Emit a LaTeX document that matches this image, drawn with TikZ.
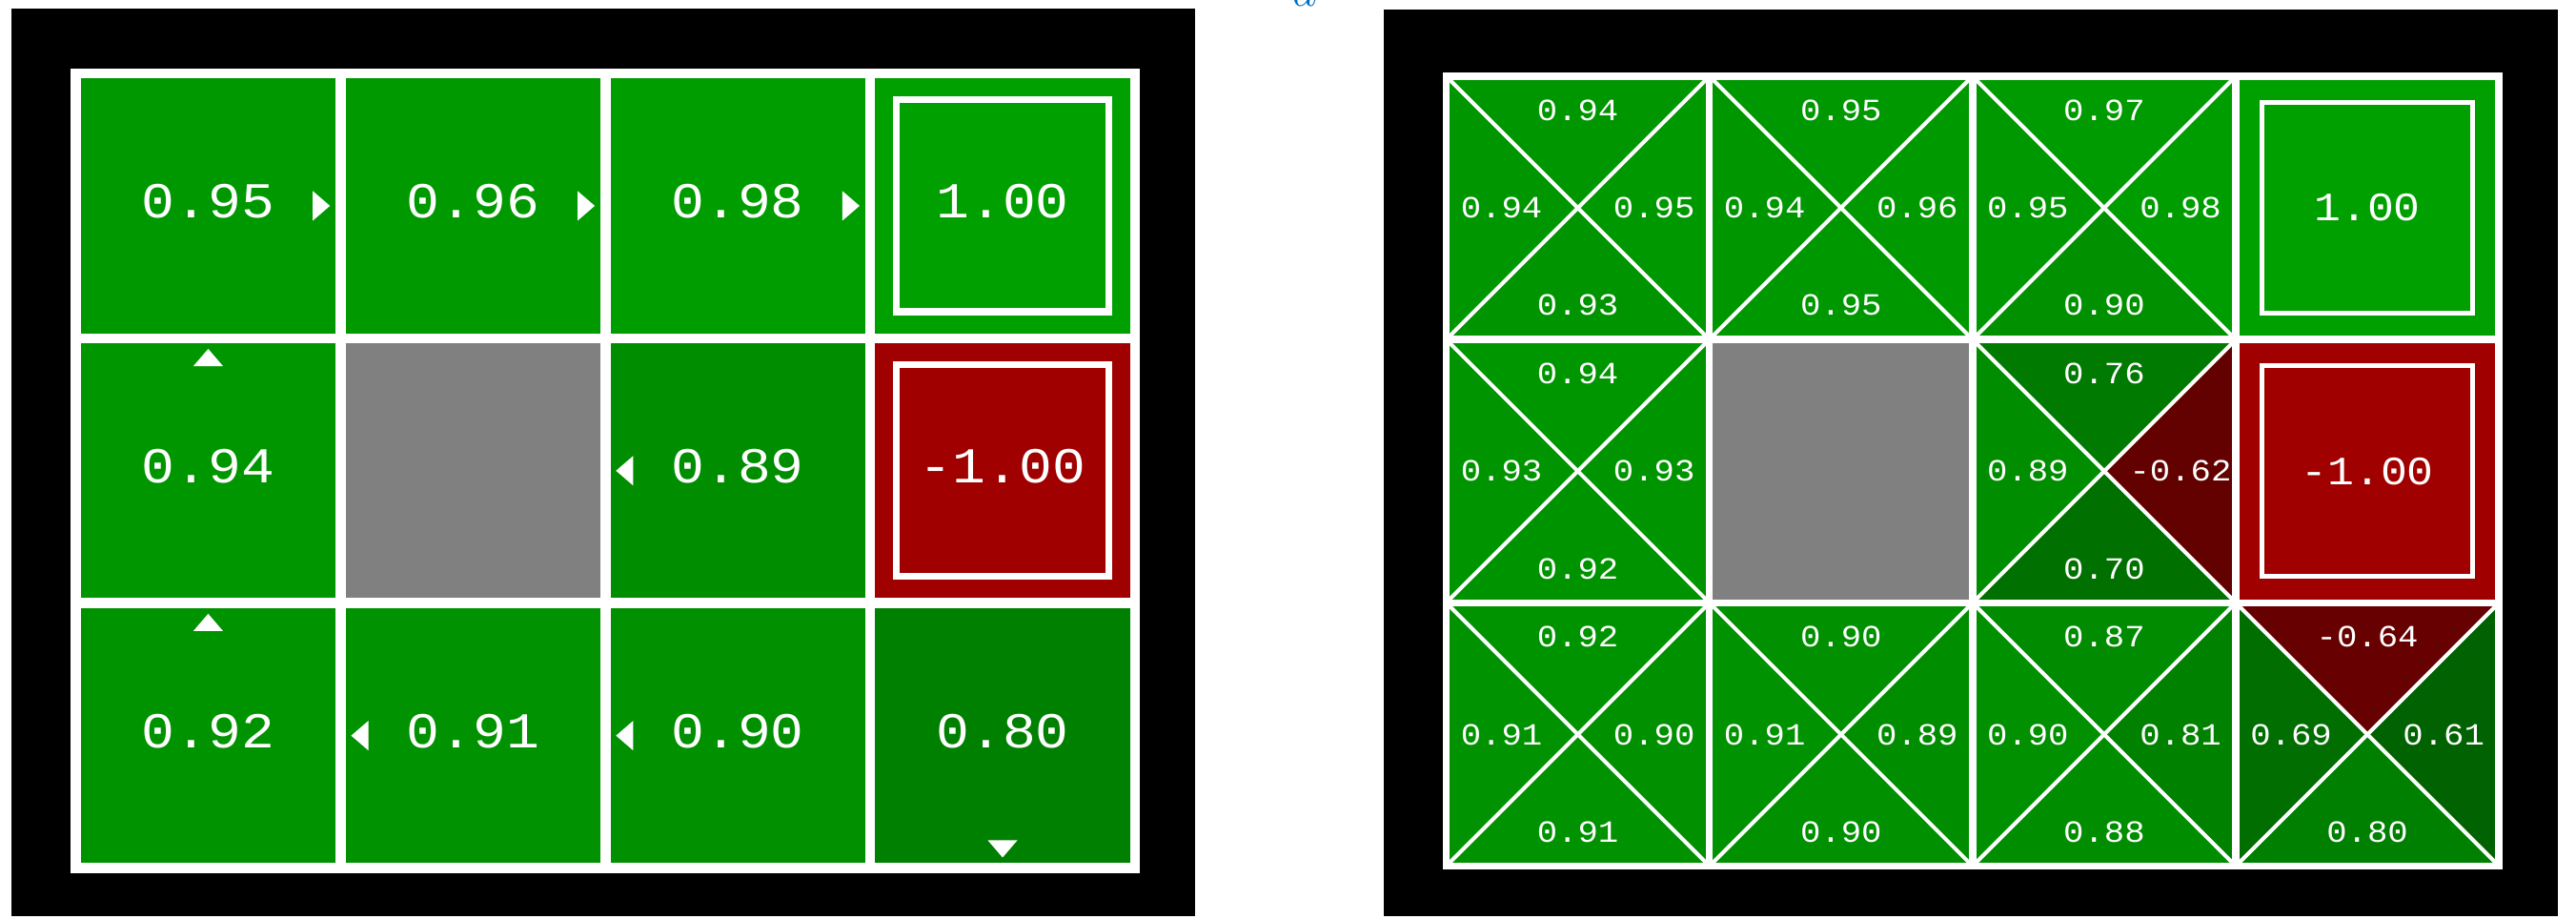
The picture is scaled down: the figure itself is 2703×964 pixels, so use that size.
\documentclass[tikz,border=0pt]{standalone}
\usepackage{fontspec}
\usepackage{xcolor}
\usepackage{tikz}
\newfontfamily\gridfont{Liberation Mono}[FakeStretch=1.1]
\definecolor{labelblue}{RGB}{0, 112, 192}
\definecolor{panelblack}{RGB}{0, 0, 0}
\usetikzlibrary{positioning}

% colour of a value: green for positive, red for negative
\newcommand{\valcolor}[1]{%
  \pgfmathsetmacro{\valpct}{62.75*abs(#1)}%
  \pgfmathtruncatemacro{\valneg}{(#1)<0}%
  \ifnum\valneg=1 \colorlet{valcol}{red!\valpct!black}\else\colorlet{valcol}{green!\valpct!black}\fi}

% one cell of q-values: column, row, north, east, south, west
\newcommand{\qcell}[6]{%
  \coordinate (q#1#2) at (#1+0.5,#2+0.5);
  \valcolor{#3}\fill[valcol] (#1,#2) -- ++(1,0) -- (q#1#2) -- cycle;
  \valcolor{#4}\fill[valcol] (#1+1,#2) -- ++(0,1) -- (q#1#2) -- cycle;
  \valcolor{#5}\fill[valcol] (#1,#2+1) -- ++(1,0) -- (q#1#2) -- cycle;
  \valcolor{#6}\fill[valcol] (#1,#2) -- ++(0,1) -- (q#1#2) -- cycle;
  \draw[qdiag] (#1,#2) -- ++(1,1) (#1+1,#2) -- ++(-1,1);
  \node[qval] (q#1#2n) at (#1+0.5,#2+0.13) {#3};
  \node[qval] (q#1#2e) at (#1+0.79,#2+0.5) {#4};
  \node[qval] (q#1#2s) at (#1+0.5,#2+0.87) {#5};
  \node[qval] (q#1#2w) at (#1+0.21,#2+0.5) {#6};}

\begin{document}
\begin{tikzpicture}[
    x=0.01cm, y=-0.01cm,
    vfill/.code={\valcolor{#1}\pgfkeysalso{fill=valcol}},
    vcell/.style={rectangle, draw=white, line width=3pt, minimum size=2.777cm, inner sep=0pt, text=white, font=\gridfont\fontsize{15}{15}\selectfont, text depth=0.1cm},
    vbox/.style={rectangle, draw=white, line width=2pt, minimum size=2.22cm, inner sep=0pt, text=white, font=\gridfont\fontsize{15}{15}\selectfont, text depth=0.1cm},
    qterm/.style={rectangle, minimum size=2.76cm, inner sep=0pt},
    qbox/.style={rectangle, draw=white, line width=1.4pt, minimum size=2.21cm, inner sep=0pt, text=white, font=\gridfont\fontsize{12}{12}\selectfont},
    qval/.style={inner sep=0pt, text=white, font=\gridfont\fontsize{9.2}{9.2}\selectfont},
    qdiag/.style={draw=white, line width=1.15pt},
    qgrid/.style={draw=white, line width=2.1pt},
    policy/.pic={\fill[white] (0.395,-0.056) -- (0.46,0) -- (0.395,0.056) -- cycle;}
]
    \useasboundingbox (0,0) rectangle (2703,964);
    \fill[panelblack] (12,9) rectangle (1254,961);
    \fill[panelblack] (1452,10) rectangle (2684,961);

    % label cut at the top edge
    \begin{scope}
        \clip (0,0) rectangle (2703,964);
        \node[font=\fontsize{15}{15}\selectfont, text=labelblue, anchor=base, inner sep=0pt] (alabel) at (1369,7) {$a$};
    \end{scope}

    % values and policy
    \begin{scope}[shift={(79.5,77)}, x=2.777cm, y=-2.777cm]
        \node[vcell, vfill=0.95] (v00) at (0.5,0.5) {0.95};
        \node[vcell, vfill=0.96] (v10) at (1.5,0.5) {0.96};
        \node[vcell, vfill=0.98] (v20) at (2.5,0.5) {0.98};
        \node[vcell, vfill=1.00] (v30) at (3.5,0.5) {};
        \node[vbox] (v30box) at (v30) {1.00};

        \node[vcell, vfill=0.94] (v01) at (0.5,1.5) {0.94};
        \node[vcell, fill=gray] (v11) at (1.5,1.5) {};
        \node[vcell, vfill=0.89] (v21) at (2.5,1.5) {0.89};
        \node[vcell, vfill=-1.00] (v31) at (3.5,1.5) {};
        \node[vbox] (v31box) at (v31) {-1.00};

        \node[vcell, vfill=0.92] (v02) at (0.5,2.5) {0.92};
        \node[vcell, vfill=0.91] (v12) at (1.5,2.5) {0.91};
        \node[vcell, vfill=0.90] (v22) at (2.5,2.5) {0.90};
        \node[vcell, vfill=0.80] (v32) at (3.5,2.5) {0.80};

        \pic at (v00) {policy};
        \pic at (v10) {policy};
        \pic at (v20) {policy};
        \pic[rotate=90] at (v01) {policy};
        \pic[rotate=180] at (v21) {policy};
        \pic[rotate=90] at (v02) {policy};
        \pic[rotate=180] at (v12) {policy};
        \pic[rotate=180] at (v22) {policy};
        \pic[rotate=-90] at (v32) {policy};
    \end{scope}

    % q-values
    \begin{scope}[shift={(1517.5,80)}, x=2.76cm, y=-2.76cm]
        \qcell{0}{0}{0.94}{0.95}{0.93}{0.94}
        \qcell{1}{0}{0.95}{0.96}{0.95}{0.94}
        \qcell{2}{0}{0.97}{0.98}{0.90}{0.95}
        \node[qterm, vfill=1.00] (q30) at (3.5,0.5) {};
        \node[qbox] (q30box) at (q30) {1.00};

        \qcell{0}{1}{0.94}{0.93}{0.92}{0.93}
        \node[qterm, fill=gray] (q11) at (1.5,1.5) {};
        \qcell{2}{1}{0.76}{-0.62}{0.70}{0.89}
        \node[qterm, vfill=-1.00] (q31) at (3.5,1.5) {};
        \node[qbox] (q31box) at (q31) {-1.00};

        \qcell{0}{2}{0.92}{0.90}{0.91}{0.91}
        \qcell{1}{2}{0.90}{0.89}{0.90}{0.91}
        \qcell{2}{2}{0.87}{0.81}{0.88}{0.90}
        \qcell{3}{2}{-0.64}{0.61}{0.80}{0.69}

        \foreach \i in {1,2,3} \draw[qgrid] (\i,0) -- (\i,3);
        \foreach \j in {1,2} \draw[qgrid] (0,\j) -- (4,\j);
        \draw[qgrid] (0,0) rectangle (4,3);
    \end{scope}
\end{tikzpicture}
\end{document}
